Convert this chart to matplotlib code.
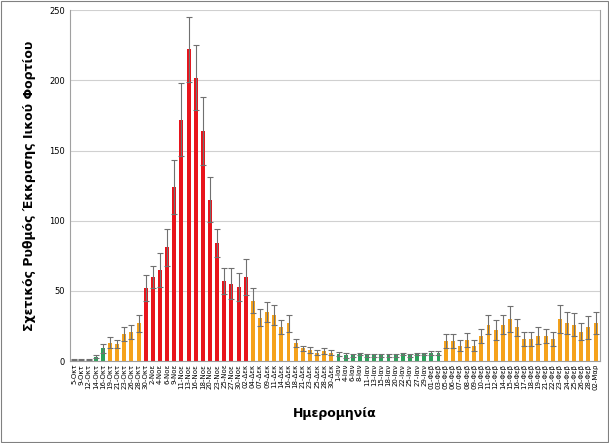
import matplotlib.pyplot as plt

dates = ["5-Οκτ", "9-Οκτ", "12-Οκτ", "14-Οκτ", "16-Οκτ", "19-Οκτ", "21-Οκτ", "23-Οκτ", "26-Οκτ", "28-Οκτ",
         "30-Οκτ", "2-Νοε", "4-Νοε", "6-Νοε", "9-Νοε", "11-Νοε", "13-Νοε", "16-Νοε", "18-Νοε", "20-Νοε",
         "23-Νοε", "25-Νοε", "27-Νοε", "30-Νοε", "02-Δεκ",
         "04-Δεκ", "07-Δεκ", "09-Δεκ", "11-Δεκ", "14-Δεκ", "16-Δεκ", "18-Δεκ", "21-Δεκ", "23-Δεκ", "25-Δεκ",
         "28-Δεκ", "30-Δεκ",
         "1-Ιαν", "4-Ιαν", "6-Ιαν", "8-Ιαν", "11-Ιαν", "13-Ιαν", "15-Ιαν", "18-Ιαν", "20-Ιαν", "22-Ιαν",
         "25-Ιαν", "27-Ιαν", "29-Ιαν", "01-Φεβ", "03-Φεβ",
         "05-Φεβ", "06-Φεβ", "07-Φεβ", "08-Φεβ", "09-Φεβ", "10-Φεβ", "11-Φεβ", "12-Φεβ", "14-Φεβ", "15-Φεβ",
         "16-Φεβ", "17-Φεβ", "18-Φεβ", "19-Φεβ", "21-Φεβ", "22-Φεβ", "23-Φεβ", "24-Φεβ", "25-Φεβ", "26-Φεβ",
         "28-Φεβ", "02-Μαρ"]

values = [1, 1, 1, 3, 9, 13, 12, 19, 21, 27,
          52, 60, 65, 81, 124, 172, 222, 202, 164, 115, 84, 57, 55, 53, 60,
          43, 31, 35, 33, 24, 27, 13, 9, 8, 6, 7, 6,
          5, 4, 4, 5, 4, 4, 4, 4, 4, 5, 4, 5, 5, 6, 6,
          14, 14, 11, 15, 11, 18, 26, 22, 26, 30, 24, 16, 16, 18, 18, 16, 30, 27, 26, 21, 24, 27]

errors = [0.5, 0.5, 0.5, 1, 3, 4, 3, 5, 5, 6,
          9, 8, 12, 13, 19, 26, 23, 23, 24, 16, 10, 9, 11, 10, 13,
          9, 6, 7, 7, 5, 6, 3, 2, 2, 2, 2, 2,
          1.5, 1.5, 1, 1, 1, 1, 1, 1, 1, 1, 1, 1, 1, 1.5, 1.5,
          5, 5, 4, 5, 4, 5, 7, 7, 7, 9, 6, 5, 5, 6, 5, 5, 10, 8, 8, 6, 8, 8]

colors = (["#2ca05a"] * 5 + ["#f5a21c"] * 5 + ["#e8141c"] * 15 + ["#f5a21c"] * 12
          + ["#2ca05a"] * 15 + ["#f5a21c"] * 22)

fig = plt.figure(figsize=(6.09, 4.43), dpi=100)
ax = fig.add_axes([0.115, 0.185, 0.87, 0.792])
x = range(len(values))
ax.bar(x, values, width=0.55, color=colors, zorder=2,
       yerr=errors, error_kw=dict(ecolor="#707070", elinewidth=0.8, capsize=2, capthick=0.8))
ax.set_ylim(0, 250)
ax.set_yticks(range(0, 251, 50))
ax.set_xlim(-0.6, len(values) - 0.4)
ax.set_xticks(list(x))
ax.set_xticklabels(dates, rotation=90, fontsize=5)
ax.tick_params(axis="y", labelsize=6, length=0)
ax.tick_params(axis="x", length=0, pad=2)
ax.yaxis.grid(True, color="#d0d0d0", linewidth=0.8, zorder=0)
for s in ["top"]:
    ax.spines[s].set_visible(False)
for s in ["left", "bottom", "right"]:
    ax.spines[s].set_color("#a0a0a0")
ax.set_ylabel("Σχετικός Ρυθμός Έκκρισης Ιικού Φορτίου", fontsize=9, fontweight="bold", labelpad=10)
ax.set_xlabel("Ημερομηνία", fontsize=9, fontweight="bold", labelpad=12)
fig.patches.append(plt.Rectangle((0.002, 0.002), 0.996, 0.996, transform=fig.transFigure,
                                 fill=False, edgecolor="#808080", linewidth=0.8))
fig.savefig("out.png", dpi=100)
